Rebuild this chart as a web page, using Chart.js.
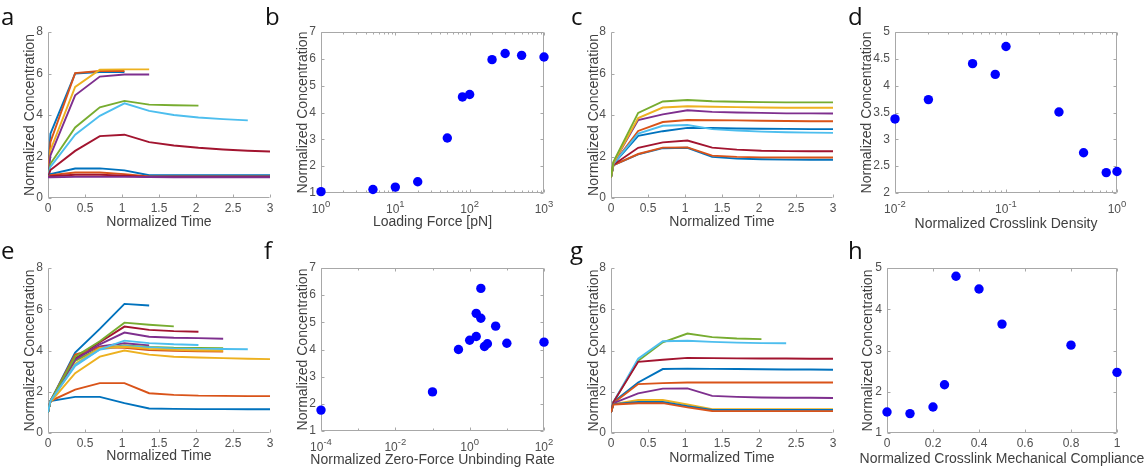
<!DOCTYPE html>
<html>
<head>
<meta charset="utf-8">
<script src="https://cdn.jsdelivr.net/npm/chart.js@4.4.1/dist/chart.umd.min.js"></script>
<style>
  html, body { margin: 0; padding: 0; background: #fff; }
  #fig { position: relative; width: 1146px; height: 469px; overflow: hidden; background: #fff; }
  #fig canvas { position: absolute; }
  .lbl { position: absolute; font-family: 'Open Sans', sans-serif; font-size: 24px; line-height: 24px; color: #111; }
</style>
</head>
<body>
<div id="fig">
  <div class="lbl" style="left:1px;top:4px">a</div>
  <div class="lbl" style="left:265px;top:4px">b</div>
  <div class="lbl" style="left:571px;top:4px">c</div>
  <div class="lbl" style="left:848px;top:4px">d</div>
  <div class="lbl" style="left:1px;top:238px">e</div>
  <div class="lbl" style="left:264px;top:238px">f</div>
  <div class="lbl" style="left:570px;top:238px">g</div>
  <div class="lbl" style="left:848px;top:238px">h</div>
</div>
<script>
// ---- data ----
const TIME = [0, 0.033, 0.367, 0.7, 1.033, 1.367, 1.7, 2.033, 2.367, 2.7, 3];
const TIME_TICKS = [0, 0.5, 1, 1.5, 2, 2.5, 3];
const CONC_TICKS_8 = [0, 2, 4, 6, 8];

// a: time courses, varying loading force
const A_LINES = [
  [1.0, 3.1, 6.0, 6.07, 6.07],
  [1.0, 2.7, 6.02, 6.12, 6.12],
  [1.0, 2.3, 5.35, 6.18, 6.2, 6.2],
  [1.0, 2.05, 4.95, 5.85, 5.95, 5.95],
  [1.0, 1.65, 3.4, 4.37, 4.68, 4.5, 4.47, 4.45],
  [1.0, 1.5, 3.05, 3.96, 4.56, 4.2, 4.0, 3.88, 3.8, 3.74],
  [1.0, 1.35, 2.27, 2.98, 3.05, 2.69, 2.53, 2.42, 2.34, 2.28, 2.24],
  [1.0, 1.15, 1.42, 1.43, 1.33, 1.1, 1.1, 1.1, 1.1, 1.1, 1.1],
  [1.0, 1.1, 1.23, 1.23, 1.15, 1.04, 1.04, 1.04, 1.04, 1.04, 1.04],
  [1.0, 1.05, 1.12, 1.12, 1.08, 1.02, 1.02, 1.02, 1.02, 1.02, 1.02],
  [1.0, 1.0, 1.02, 1.02, 1.02, 1.01, 1.0, 1.0, 1.0, 1.0, 1.0]
];

// b: final concentration vs loading force
const B_FORCE = [1, 5, 10, 20, 50, 80, 100, 200, 300, 500, 1000];
const B_CONC = [1.05, 1.13, 1.22, 1.42, 3.05, 4.58, 4.67, 5.97, 6.2, 6.13, 6.07];
const B_X_TICKS = [1, 10, 100, 1000];
const B_Y_TICKS = [1, 2, 3, 4, 5, 6, 7];

// c: time courses, varying crosslink density
const C_LINES = [
  [1.0, 1.58, 2.1, 2.4, 2.42, 1.98, 1.9, 1.87, 1.85, 1.84, 1.84],
  [1.0, 1.58, 2.12, 2.43, 2.44, 2.04, 1.98, 1.96, 1.95, 1.95, 1.95],
  [1.0, 1.6, 2.42, 2.68, 2.77, 2.43, 2.33, 2.28, 2.26, 2.25, 2.25],
  [1.0, 1.65, 3.0, 3.22, 3.38, 3.37, 3.35, 3.34, 3.33, 3.32, 3.32],
  [1.0, 1.65, 3.23, 3.66, 3.76, 3.75, 3.74, 3.72, 3.71, 3.7, 3.7],
  [1.0, 1.65, 3.1, 3.48, 3.52, 3.32, 3.25, 3.2, 3.17, 3.15, 3.14],
  [1.0, 1.7, 3.76, 4.03, 4.23, 4.15, 4.12, 4.1, 4.08, 4.08, 4.07],
  [1.0, 1.7, 3.85, 4.36, 4.42, 4.4, 4.38, 4.36, 4.35, 4.35, 4.35],
  [1.0, 1.75, 4.1, 4.65, 4.72, 4.66, 4.64, 4.62, 4.61, 4.61, 4.61]
];

// d: final concentration vs crosslink density
const D_DENSITY = [0.01, 0.02, 0.05, 0.08, 0.1, 0.3, 0.5, 0.8, 1.0];
const D_CONC = [3.38, 3.74, 4.41, 4.21, 4.73, 3.51, 2.75, 2.38, 2.40];
const D_X_TICKS = [0.01, 0.1, 1];
const D_Y_TICKS = [2, 2.5, 3, 3.5, 4, 4.5, 5];

// e: time courses, varying zero-force unbinding rate
const E_LINES = [
  [1.0, 1.55, 1.75, 1.75, 1.45, 1.19, 1.17, 1.16, 1.16, 1.15, 1.15],
  [1.0, 1.55, 2.1, 2.42, 2.42, 1.93, 1.85, 1.81, 1.8, 1.79, 1.79],
  [1.0, 1.5, 2.9, 3.7, 4.0, 3.8, 3.7, 3.66, 3.63, 3.6, 3.58],
  [1.0, 1.55, 3.6, 4.2, 4.35, 4.25],
  [1.0, 1.55, 3.5, 4.1, 4.25, 4.17, 4.13, 4.12, 4.11],
  [1.0, 1.55, 3.25, 4.05, 4.22, 4.15, 4.1, 4.08, 4.07, 4.06],
  [1.0, 1.55, 3.6, 4.4, 5.16, 5.0, 4.94, 4.91],
  [1.0, 1.55, 3.9, 5.05, 6.26, 6.18],
  [1.0, 1.55, 3.8, 4.15, 4.13, 4.02, 3.98, 3.96, 3.95],
  [1.0, 1.55, 3.35, 4.12, 4.18, 4.08, 4.03, 4.0, 3.98],
  [1.0, 1.55, 3.55, 4.3, 4.87, 4.67, 4.62, 4.6, 4.57],
  [1.0, 1.55, 3.7, 4.45, 5.35, 5.25, 5.17],
  [1.0, 1.55, 3.3, 4.05, 4.48, 4.36, 4.3, 4.27]
];

// f: final concentration vs zero-force unbinding rate
const F_RATE = [1e-4, 0.1, 0.5, 1, 1.5, 1.5, 2, 2, 2.5, 3, 5, 10, 100];
const F_CONC = [1.77, 2.44, 4.0, 4.34, 4.48, 5.33, 6.25, 5.15, 4.11, 4.21, 4.86, 4.23, 4.27];
const F_X_TICKS = [1e-4, 1e-2, 1, 100];
const F_Y_TICKS = [1, 2, 3, 4, 5, 6, 7];

// g: time courses, varying mechanical compliance
const G_LINES = [
  [1.0, 1.5, 2.45, 3.1, 3.12, 3.11, 3.1, 3.09, 3.08, 3.08, 3.07],
  [1.0, 1.45, 2.37, 2.42, 2.45, 2.45, 2.45, 2.45, 2.45, 2.45, 2.45],
  [1.0, 1.4, 1.6, 1.6, 1.38, 1.16, 1.16, 1.16, 1.16, 1.16, 1.16],
  [1.0, 1.45, 1.92, 2.15, 2.16, 1.8, 1.75, 1.72, 1.71, 1.71, 1.7],
  [1.0, 1.5, 3.5, 4.4, 4.82, 4.65, 4.58, 4.55],
  [1.0, 1.5, 3.6, 4.45, 4.47, 4.42, 4.38, 4.36, 4.35],
  [1.0, 1.5, 3.45, 3.55, 3.64, 3.63, 3.62, 3.61, 3.61, 3.6, 3.6],
  [1.0, 1.4, 1.5, 1.5, 1.3, 1.12, 1.12, 1.12, 1.12, 1.12, 1.12],
  [1.0, 1.38, 1.44, 1.45, 1.24, 1.07, 1.06, 1.06, 1.06, 1.06, 1.06]
];

// h: final concentration vs mechanical compliance
const H_COMP = [0, 0.1, 0.2, 0.25, 0.3, 0.4, 0.5, 0.8, 1.0];
const H_CONC = [1.51, 1.47, 1.63, 2.17, 4.80, 4.49, 3.64, 3.13, 2.47];
const H_X_TICKS = [0, 0.2, 0.4, 0.6, 0.8, 1];
const H_Y_TICKS = [1, 2, 3, 4, 5];

// ---- styles ----
const BLUE = '#0072BD', ORANGE = '#D95319', YELLOW = '#EDB120', PURPLE = '#7E2F8E',
      GREEN = '#77AC30', LBLUE = '#4DBEEE', DRED = '#A2142F';
const A_COLORS = [BLUE, ORANGE, YELLOW, PURPLE, GREEN, LBLUE, DRED, BLUE, ORANGE, DRED, PURPLE];
const C_COLORS = [BLUE, ORANGE, DRED, BLUE, ORANGE, LBLUE, PURPLE, YELLOW, GREEN];
const E_COLORS = [BLUE, ORANGE, YELLOW, PURPLE, GREEN, LBLUE, DRED, BLUE, ORANGE, YELLOW, PURPLE, GREEN, LBLUE];
const G_COLORS = [BLUE, ORANGE, YELLOW, PURPLE, GREEN, LBLUE, DRED, BLUE, ORANGE];
const DOT = '#0000FF';
const AXIS = '#a8a8a8', TICK_TXT = '#505050', TITLE_TXT = '#404040';
const FONT = "'Liberation Sans', Arial, sans-serif";

Chart.defaults.font.family = FONT;
Chart.defaults.font.size = 12;
Chart.defaults.color = TICK_TXT;

const YW = 48, PT = 10, PR = 32, XH = 44;

// inward MATLAB style ticks, box, 10^n labels and x titles
const matAxes = {
  id: 'matAxes',
  beforeDatasetsDraw(chart, args, o) {
    const {ctx, chartArea: a, scales: {x, y}} = chart;
    const L = Math.round(a.left) + 0.5, R = Math.round(a.right) - 0.5;
    const T = Math.round(a.top) + 0.5, B = Math.round(a.bottom) - 0.5;
    ctx.save();
    ctx.strokeStyle = AXIS;
    ctx.lineWidth = 1;
    ctx.beginPath();
    if (o.box) {
      ctx.rect(L, T, R - L, B - T);
    } else {
      ctx.moveTo(L, T); ctx.lineTo(L, B); ctx.lineTo(R, B);
    }
    const xt = (v, len) => {
      const p = Math.round(x.getPixelForValue(v)) + 0.5;
      ctx.moveTo(p, B); ctx.lineTo(p, B - len);
      if (o.box) { ctx.moveTo(p, T); ctx.lineTo(p, T + len); }
    };
    const yt = (v, len) => {
      const p = Math.round(y.getPixelForValue(v)) + 0.5;
      ctx.moveTo(L, p); ctx.lineTo(L + len, p);
      if (o.box) { ctx.moveTo(R, p); ctx.lineTo(R - len, p); }
    };
    x.ticks.forEach(t => xt(t.value, 3));
    y.ticks.forEach(t => yt(t.value, 3));
    if (o.minor) {
      const lo = Math.round(Math.log10(x.min)), hi = Math.round(Math.log10(x.max));
      for (let e = lo; e < hi; e++) {
        if (o.minor === 'decade') { if (e > lo) xt(Math.pow(10, e), 2); continue; }
        for (let k = 2; k <= 9; k++) xt(k * Math.pow(10, e), 2);
      }
    }
    ctx.stroke();
    ctx.restore();
  },
  afterDraw(chart, args, o) {
    const {ctx, chartArea: a, scales: {x}} = chart;
    ctx.save();
    ctx.fillStyle = TITLE_TXT;
    ctx.font = '14px ' + FONT;
    ctx.textAlign = 'center';
    ctx.textBaseline = 'middle';
    ctx.fillText(o.xTitle, (a.left + a.right) / 2, a.bottom + o.xOff);
    if (o.logLabels) {
      ctx.fillStyle = TICK_TXT;
      ctx.textBaseline = 'alphabetic';
      ctx.textAlign = 'left';
      x.ticks.forEach(t => {
        const ex = String(Math.round(Math.log10(t.value)));
        ctx.font = '12px ' + FONT;
        const wb = ctx.measureText('10').width;
        ctx.font = '9.5px ' + FONT;
        const we = ctx.measureText(ex).width;
        const x0 = x.getPixelForValue(t.value) - (wb + we) / 2;
        ctx.font = '12px ' + FONT;
        ctx.fillText('10', x0, a.bottom + 20);
        ctx.font = '9.5px ' + FONT;
        ctx.fillText(ex, x0 + wb, a.bottom + 13.5);
      });
    }
    ctx.restore();
  }
};

function makePanel(p) {
  const fig = document.getElementById('fig');
  const cv = document.createElement('canvas');
  const w = YW + (p.r - p.l) + PR, h = PT + (p.b - p.t) + XH;
  cv.width = w; cv.height = h;
  cv.style.width = w + 'px'; cv.style.height = h + 'px';
  cv.style.left = (p.l - YW) + 'px'; cv.style.top = (p.t - PT) + 'px';
  fig.insertBefore(cv, fig.firstChild);

  new Chart(cv, {
    type: 'scatter',
    data: { datasets: p.datasets },
    plugins: [matAxes],
    options: {
      responsive: false,
      animation: false,
      devicePixelRatio: 1,
      layout: { padding: { left: 0, top: PT, right: PR, bottom: 0 } },
      plugins: {
        legend: { display: false },
        tooltip: { enabled: false },
        matAxes: { box: p.box, logLabels: p.xLog, minor: p.minor, xTitle: p.xTitle, xOff: p.xOff }
      },
      scales: {
        x: {
          type: p.xLog ? 'logarithmic' : 'linear',
          min: p.xMin, max: p.xMax,
          afterBuildTicks: s => { s.ticks = p.xTicks.map(v => ({value: v})); },
          ticks: { display: !p.xLog, callback: v => String(v), padding: 3, maxRotation: 0, autoSkip: false, color: TICK_TXT },
          grid: { display: false, drawTicks: false },
          border: { display: false },
          title: { display: false },
          afterFit: s => { s.height = XH; s.paddingLeft = 0; s.paddingRight = 0; }
        },
        y: {
          type: 'linear',
          min: p.yMin, max: p.yMax,
          afterBuildTicks: s => { s.ticks = p.yTicks.map(v => ({value: v})); },
          ticks: { callback: v => String(v), padding: 5, autoSkip: false, color: TICK_TXT },
          grid: { display: false, drawTicks: false },
          border: { display: false },
          title: { display: true, text: 'Normalized Concentration', color: TITLE_TXT, font: { size: 14 },
                   padding: { top: YW - p.yOff - 8.4, bottom: 0 } },
          afterFit: s => { s.width = YW; s.paddingTop = 0; s.paddingBottom = 0; }
        }
      }
    }
  });
}

function lineSets(lines, colors) {
  return lines.map((vals, i) => ({
    data: vals.map((v, j) => ({x: TIME[j], y: v})),
    showLine: true,
    borderColor: colors[i],
    borderWidth: 1.9,
    pointRadius: 0,
    fill: false,
    tension: 0,
    order: -i
  }));
}

function dotSet(xs, ys) {
  return [{
    data: xs.map((v, i) => ({x: v, y: ys[i]})),
    showLine: false,
    backgroundColor: DOT,
    borderWidth: 0,
    pointRadius: 4.7,
    clip: false
  }];
}

const timePanel = (l, t, b, lines, colors, xOff, yOff) => ({
  l, r: l + 222, t, b, box: false, xLog: false,
  xMin: 0, xMax: 3, xTicks: TIME_TICKS, yMin: 0, yMax: 8, yTicks: CONC_TICKS_8,
  xTitle: 'Normalized Time', xOff, yOff, datasets: lineSets(lines, colors)
});

makePanel(timePanel(48, 32, 198, A_LINES, A_COLORS, 24.5, 18));
makePanel(timePanel(611, 32, 198, C_LINES, C_COLORS, 24.5, 17));
makePanel(timePanel(48, 268, 433, E_LINES, E_COLORS, 23.5, 18));
makePanel(timePanel(611, 268, 433, G_LINES, G_COLORS, 25, 17));

makePanel({ l: 321, r: 544, t: 32, b: 193, box: true, xLog: true, minor: 'all',
  xMin: 1, xMax: 1000, xTicks: B_X_TICKS, yMin: 1, yMax: 7, yTicks: B_Y_TICKS,
  xTitle: 'Loading Force [pN]', xOff: 29, yOff: 18, datasets: dotSet(B_FORCE, B_CONC) });

makePanel({ l: 895, r: 1117, t: 32, b: 193, box: true, xLog: true, minor: 'all',
  xMin: 0.01, xMax: 1, xTicks: D_X_TICKS, yMin: 2, yMax: 5, yTicks: D_Y_TICKS,
  xTitle: 'Normalized Crosslink Density', xOff: 31, yOff: 28, datasets: dotSet(D_DENSITY, D_CONC) });

makePanel({ l: 321, r: 544, t: 268, b: 431, box: true, xLog: true, minor: 'decade',
  xMin: 1e-4, xMax: 100, xTicks: F_X_TICKS, yMin: 1, yMax: 7, yTicks: F_Y_TICKS,
  xTitle: 'Normalized Zero-Force Unbinding Rate', xOff: 29.5, yOff: 18, datasets: dotSet(F_RATE, F_CONC) });

makePanel({ l: 887, r: 1117, t: 268, b: 433, box: true, xLog: false,
  xMin: 0, xMax: 1, xTicks: H_X_TICKS, yMin: 1, yMax: 5, yTicks: H_Y_TICKS,
  xTitle: 'Normalized Crosslink Mechanical Compliance', xOff: 26, yOff: 19, datasets: dotSet(H_COMP, H_CONC) });
</script>
</body>
</html>
